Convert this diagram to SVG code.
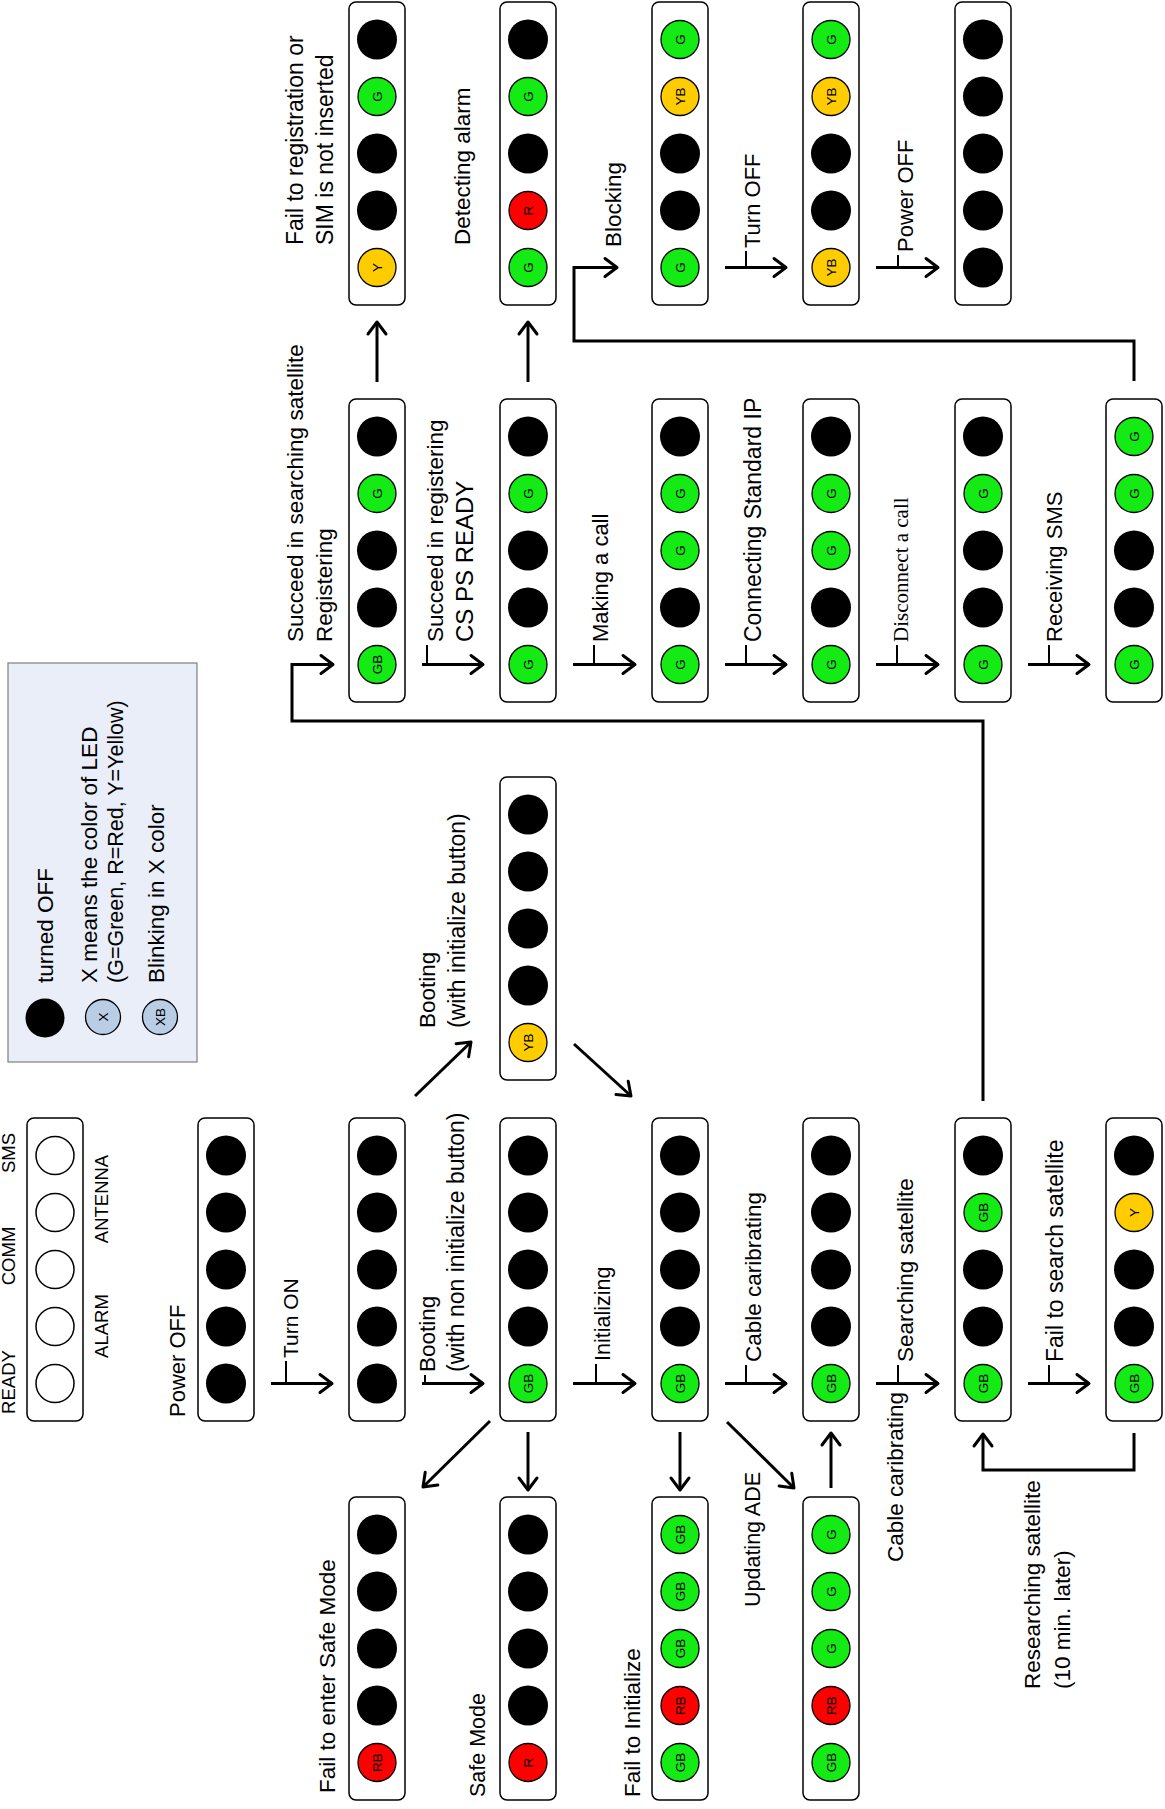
<svg xmlns="http://www.w3.org/2000/svg" width="1165" height="1809" viewBox="0 0 1165 1809">
<style>
.box{fill:#fff;stroke:#000;stroke-width:1.5}
.off{fill:#000}
.wh{fill:#fff;stroke:#000;stroke-width:1.5}
.g{fill:#14EB14;stroke:#000;stroke-width:1.3}
.r{fill:#FF0000;stroke:#000;stroke-width:1.3}
.y{fill:#FFCC00;stroke:#000;stroke-width:1.3}
.lb{fill:#B9CDE5;stroke:#000;stroke-width:1.3}
.led{font-family:"Liberation Sans",Arial,sans-serif;font-size:13.5px;text-anchor:middle;dominant-baseline:central;fill:#000}
.t{font-family:"Liberation Sans",Arial,sans-serif;font-size:22.5px;fill:#000}
.s21{font-size:21.5px}
.s22{font-size:22px}
.s23{font-size:23px}
.sm{font-size:18.5px}
.mid{text-anchor:middle}
.serif{font-family:"Liberation Serif","Times New Roman",serif;font-size:21px}
.conn line,.conn polyline{stroke:#000;stroke-width:3;fill:none}
.tick line{stroke:#000;stroke-width:2}
</style>
<defs>
<marker id="ah" viewBox="0 0 18 22" refX="15" refY="11" markerWidth="18" markerHeight="22" markerUnits="userSpaceOnUse" orient="auto" overflow="visible">
<path d="M3,2 L15,11 L3,20" fill="none" stroke="#000" stroke-width="3" stroke-linecap="round" stroke-linejoin="round"/>
</marker>
</defs>

<!-- Legend: device -->
<g id="legend-device">
<rect class="box" x="27" y="1118" width="56" height="303" rx="7"/>
<circle class="wh" cx="55" cy="1155.5" r="19"/>
<circle class="wh" cx="55" cy="1212.5" r="19"/>
<circle class="wh" cx="55" cy="1269.5" r="19"/>
<circle class="wh" cx="55" cy="1326.5" r="19"/>
<circle class="wh" cx="55" cy="1383.5" r="19"/>
<text class="t sm mid" transform="translate(15 1382) rotate(-90)">READY</text>
<text class="t sm mid" transform="translate(15 1256) rotate(-90)">COMM</text>
<text class="t sm mid" transform="translate(15 1153) rotate(-90)">SMS</text>
<text class="t sm mid" transform="translate(108 1326) rotate(-90)">ALARM</text>
<text class="t sm mid" transform="translate(108 1199) rotate(-90)">ANTENNA</text>
</g>

<!-- Legend: key -->
<g id="legend-key">
<rect x="8" y="663" width="189" height="399" fill="#E9EEF8" stroke="#7F7F7F" stroke-width="1.2"/>
<circle class="off" cx="45" cy="1018" r="19.5"/>
<g transform="translate(103 1017)"><circle class="lb" r="17.5"/><text class="led" transform="rotate(-90)">X</text></g>
<g transform="translate(160 1017)"><circle class="lb" r="17.5"/><text class="led" transform="rotate(-90)">XB</text></g>
<text class="t" transform="translate(53 983) rotate(-90)">turned OFF</text>
<text class="t" transform="translate(97 983) rotate(-90)">X means the color of LED</text>
<text class="t s21" transform="translate(123 983) rotate(-90)">(G=Green, R=Red, Y=Yellow)</text>
<text class="t" transform="translate(164 983) rotate(-90)">Blinking in X color</text>
</g>

<!-- Col1 Row C: Power OFF -->
<g id="n-power-off">
<rect class="box" x="198" y="1118" width="56" height="303" rx="7"/>
<circle class="off" cx="226" cy="1155.5" r="20"/>
<circle class="off" cx="226" cy="1212.5" r="20"/>
<circle class="off" cx="226" cy="1269.5" r="20"/>
<circle class="off" cx="226" cy="1326.5" r="20"/>
<circle class="off" cx="226" cy="1383.5" r="20"/>
<text class="t s22" transform="translate(185 1417) rotate(-90)">Power OFF</text>
</g>

<!-- Col2 Row C: turned on -->
<g id="n-turn-on">
<rect class="box" x="349" y="1118" width="56" height="303" rx="7"/>
<circle class="off" cx="377" cy="1155.5" r="20"/>
<circle class="off" cx="377" cy="1212.5" r="20"/>
<circle class="off" cx="377" cy="1269.5" r="20"/>
<circle class="off" cx="377" cy="1326.5" r="20"/>
<circle class="off" cx="377" cy="1383.5" r="20"/>
</g>

<!-- Col2 Row D: Fail to enter Safe Mode -->
<g id="n-fail-safe">
<rect class="box" x="349" y="1497" width="56" height="303" rx="7"/>
<circle class="off" cx="377" cy="1534.5" r="20"/>
<circle class="off" cx="377" cy="1591.5" r="20"/>
<circle class="off" cx="377" cy="1648.5" r="20"/>
<circle class="off" cx="377" cy="1705.5" r="20"/>
<g transform="translate(377 1762.5)"><circle class="r" r="19"/><text class="led" transform="rotate(-90)">RB</text></g>
</g>

<!-- Col2 Row A: Fail to registration -->
<g id="n-fail-reg">
<rect class="box" x="349" y="2" width="56" height="303" rx="7"/>
<circle class="off" cx="377" cy="39.5" r="20"/>
<g transform="translate(377 96.5)"><circle class="g" r="19"/><text class="led" transform="rotate(-90)">G</text></g>
<circle class="off" cx="377" cy="153.5" r="20"/>
<circle class="off" cx="377" cy="210.5" r="20"/>
<g transform="translate(377 267.5)"><circle class="y" r="19"/><text class="led" transform="rotate(-90)">Y</text></g>
</g>

<!-- Col2 Row B: Registering -->
<g id="n-registering">
<rect class="box" x="349" y="399" width="56" height="303" rx="7"/>
<circle class="off" cx="377" cy="436.5" r="20"/>
<g transform="translate(377 493.5)"><circle class="g" r="19"/><text class="led" transform="rotate(-90)">G</text></g>
<circle class="off" cx="377" cy="550.5" r="20"/>
<circle class="off" cx="377" cy="607.5" r="20"/>
<g transform="translate(377 664.5)"><circle class="g" r="19"/><text class="led" transform="rotate(-90)">GB</text></g>
</g>

<!-- Col3 Row A: Detecting alarm -->
<g id="n-alarm">
<rect class="box" x="500" y="2" width="56" height="303" rx="7"/>
<circle class="off" cx="528" cy="39.5" r="20"/>
<g transform="translate(528 96.5)"><circle class="g" r="19"/><text class="led" transform="rotate(-90)">G</text></g>
<circle class="off" cx="528" cy="153.5" r="20"/>
<g transform="translate(528 210.5)"><circle class="r" r="19"/><text class="led" transform="rotate(-90)">R</text></g>
<g transform="translate(528 267.5)"><circle class="g" r="19"/><text class="led" transform="rotate(-90)">G</text></g>
</g>

<!-- Col3 Row B: CS PS READY -->
<g id="n-ready">
<rect class="box" x="500" y="399" width="56" height="303" rx="7"/>
<circle class="off" cx="528" cy="436.5" r="20"/>
<g transform="translate(528 493.5)"><circle class="g" r="19"/><text class="led" transform="rotate(-90)">G</text></g>
<circle class="off" cx="528" cy="550.5" r="20"/>
<circle class="off" cx="528" cy="607.5" r="20"/>
<g transform="translate(528 664.5)"><circle class="g" r="19"/><text class="led" transform="rotate(-90)">G</text></g>
</g>

<!-- Col3 Mid: Booting with initialize -->
<g id="n-boot-init">
<rect class="box" x="500" y="777" width="56" height="303" rx="7"/>
<circle class="off" cx="528" cy="814.5" r="20"/>
<circle class="off" cx="528" cy="871.5" r="20"/>
<circle class="off" cx="528" cy="928.5" r="20"/>
<circle class="off" cx="528" cy="985.5" r="20"/>
<g transform="translate(528 1042.5)"><circle class="y" r="19"/><text class="led" transform="rotate(-90)">YB</text></g>
</g>

<!-- Col3 Row C: Booting non init -->
<g id="n-boot">
<rect class="box" x="500" y="1118" width="56" height="303" rx="7"/>
<circle class="off" cx="528" cy="1155.5" r="20"/>
<circle class="off" cx="528" cy="1212.5" r="20"/>
<circle class="off" cx="528" cy="1269.5" r="20"/>
<circle class="off" cx="528" cy="1326.5" r="20"/>
<g transform="translate(528 1383.5)"><circle class="g" r="19"/><text class="led" transform="rotate(-90)">GB</text></g>
</g>

<!-- Col3 Row D: Safe Mode -->
<g id="n-safe">
<rect class="box" x="500" y="1497" width="56" height="303" rx="7"/>
<circle class="off" cx="528" cy="1534.5" r="20"/>
<circle class="off" cx="528" cy="1591.5" r="20"/>
<circle class="off" cx="528" cy="1648.5" r="20"/>
<circle class="off" cx="528" cy="1705.5" r="20"/>
<g transform="translate(528 1762.5)"><circle class="r" r="19"/><text class="led" transform="rotate(-90)">R</text></g>
</g>

<!-- Col4 Row A: Blocking -->
<g id="n-blocking">
<rect class="box" x="652" y="2" width="56" height="303" rx="7"/>
<g transform="translate(680 39.5)"><circle class="g" r="19"/><text class="led" transform="rotate(-90)">G</text></g>
<g transform="translate(680 96.5)"><circle class="y" r="19"/><text class="led" transform="rotate(-90)">YB</text></g>
<circle class="off" cx="680" cy="153.5" r="20"/>
<circle class="off" cx="680" cy="210.5" r="20"/>
<g transform="translate(680 267.5)"><circle class="g" r="19"/><text class="led" transform="rotate(-90)">G</text></g>
</g>

<!-- Col4 Row B: Making a call -->
<g id="n-call">
<rect class="box" x="652" y="399" width="56" height="303" rx="7"/>
<circle class="off" cx="680" cy="436.5" r="20"/>
<g transform="translate(680 493.5)"><circle class="g" r="19"/><text class="led" transform="rotate(-90)">G</text></g>
<g transform="translate(680 550.5)"><circle class="g" r="19"/><text class="led" transform="rotate(-90)">G</text></g>
<circle class="off" cx="680" cy="607.5" r="20"/>
<g transform="translate(680 664.5)"><circle class="g" r="19"/><text class="led" transform="rotate(-90)">G</text></g>
</g>

<!-- Col4 Row C: Initializing -->
<g id="n-init">
<rect class="box" x="652" y="1118" width="56" height="303" rx="7"/>
<circle class="off" cx="680" cy="1155.5" r="20"/>
<circle class="off" cx="680" cy="1212.5" r="20"/>
<circle class="off" cx="680" cy="1269.5" r="20"/>
<circle class="off" cx="680" cy="1326.5" r="20"/>
<g transform="translate(680 1383.5)"><circle class="g" r="19"/><text class="led" transform="rotate(-90)">GB</text></g>
</g>

<!-- Col4 Row D: Fail to Initialize -->
<g id="n-fail-init">
<rect class="box" x="652" y="1497" width="56" height="303" rx="7"/>
<g transform="translate(680 1534.5)"><circle class="g" r="19"/><text class="led" transform="rotate(-90)">GB</text></g>
<g transform="translate(680 1591.5)"><circle class="g" r="19"/><text class="led" transform="rotate(-90)">GB</text></g>
<g transform="translate(680 1648.5)"><circle class="g" r="19"/><text class="led" transform="rotate(-90)">GB</text></g>
<g transform="translate(680 1705.5)"><circle class="r" r="19"/><text class="led" transform="rotate(-90)">RB</text></g>
<g transform="translate(680 1762.5)"><circle class="g" r="19"/><text class="led" transform="rotate(-90)">GB</text></g>
</g>

<!-- Col5 Row A: Turn OFF -->
<g id="n-turn-off">
<rect class="box" x="803" y="2" width="56" height="303" rx="7"/>
<g transform="translate(831 39.5)"><circle class="g" r="19"/><text class="led" transform="rotate(-90)">G</text></g>
<g transform="translate(831 96.5)"><circle class="y" r="19"/><text class="led" transform="rotate(-90)">YB</text></g>
<circle class="off" cx="831" cy="153.5" r="20"/>
<circle class="off" cx="831" cy="210.5" r="20"/>
<g transform="translate(831 267.5)"><circle class="y" r="19"/><text class="led" transform="rotate(-90)">YB</text></g>
</g>

<!-- Col5 Row B: Connecting Standard IP -->
<g id="n-ip">
<rect class="box" x="803" y="399" width="56" height="303" rx="7"/>
<circle class="off" cx="831" cy="436.5" r="20"/>
<g transform="translate(831 493.5)"><circle class="g" r="19"/><text class="led" transform="rotate(-90)">G</text></g>
<g transform="translate(831 550.5)"><circle class="g" r="19"/><text class="led" transform="rotate(-90)">G</text></g>
<circle class="off" cx="831" cy="607.5" r="20"/>
<g transform="translate(831 664.5)"><circle class="g" r="19"/><text class="led" transform="rotate(-90)">G</text></g>
</g>

<!-- Col5 Row C: Cable caribrating -->
<g id="n-cable">
<rect class="box" x="803" y="1118" width="56" height="303" rx="7"/>
<circle class="off" cx="831" cy="1155.5" r="20"/>
<circle class="off" cx="831" cy="1212.5" r="20"/>
<circle class="off" cx="831" cy="1269.5" r="20"/>
<circle class="off" cx="831" cy="1326.5" r="20"/>
<g transform="translate(831 1383.5)"><circle class="g" r="19"/><text class="led" transform="rotate(-90)">GB</text></g>
</g>

<!-- Col5 Row D: Updating ADE -->
<g id="n-ade">
<rect class="box" x="803" y="1497" width="56" height="303" rx="7"/>
<g transform="translate(831 1534.5)"><circle class="g" r="19"/><text class="led" transform="rotate(-90)">G</text></g>
<g transform="translate(831 1591.5)"><circle class="g" r="19"/><text class="led" transform="rotate(-90)">G</text></g>
<g transform="translate(831 1648.5)"><circle class="g" r="19"/><text class="led" transform="rotate(-90)">G</text></g>
<g transform="translate(831 1705.5)"><circle class="r" r="19"/><text class="led" transform="rotate(-90)">RB</text></g>
<g transform="translate(831 1762.5)"><circle class="g" r="19"/><text class="led" transform="rotate(-90)">GB</text></g>
</g>

<!-- Col6 Row A: Power OFF -->
<g id="n-power-off-2">
<rect class="box" x="955" y="2" width="56" height="303" rx="7"/>
<circle class="off" cx="983" cy="39.5" r="20"/>
<circle class="off" cx="983" cy="96.5" r="20"/>
<circle class="off" cx="983" cy="153.5" r="20"/>
<circle class="off" cx="983" cy="210.5" r="20"/>
<circle class="off" cx="983" cy="267.5" r="20"/>
</g>

<!-- Col6 Row B: Disconnect a call -->
<g id="n-disconnect">
<rect class="box" x="955" y="399" width="56" height="303" rx="7"/>
<circle class="off" cx="983" cy="436.5" r="20"/>
<g transform="translate(983 493.5)"><circle class="g" r="19"/><text class="led" transform="rotate(-90)">G</text></g>
<circle class="off" cx="983" cy="550.5" r="20"/>
<circle class="off" cx="983" cy="607.5" r="20"/>
<g transform="translate(983 664.5)"><circle class="g" r="19"/><text class="led" transform="rotate(-90)">G</text></g>
</g>

<!-- Col6 Row C: Searching satellite -->
<g id="n-search">
<rect class="box" x="955" y="1118" width="56" height="303" rx="7"/>
<circle class="off" cx="983" cy="1155.5" r="20"/>
<g transform="translate(983 1212.5)"><circle class="g" r="19"/><text class="led" transform="rotate(-90)">GB</text></g>
<circle class="off" cx="983" cy="1269.5" r="20"/>
<circle class="off" cx="983" cy="1326.5" r="20"/>
<g transform="translate(983 1383.5)"><circle class="g" r="19"/><text class="led" transform="rotate(-90)">GB</text></g>
</g>

<!-- Col7 Row B: Receiving SMS -->
<g id="n-sms">
<rect class="box" x="1106" y="399" width="56" height="303" rx="7"/>
<g transform="translate(1134 436.5)"><circle class="g" r="19"/><text class="led" transform="rotate(-90)">G</text></g>
<g transform="translate(1134 493.5)"><circle class="g" r="19"/><text class="led" transform="rotate(-90)">G</text></g>
<circle class="off" cx="1134" cy="550.5" r="20"/>
<circle class="off" cx="1134" cy="607.5" r="20"/>
<g transform="translate(1134 664.5)"><circle class="g" r="19"/><text class="led" transform="rotate(-90)">G</text></g>
</g>

<!-- Col7 Row C: Fail to search satellite -->
<g id="n-fail-search">
<rect class="box" x="1106" y="1118" width="56" height="303" rx="7"/>
<circle class="off" cx="1134" cy="1155.5" r="20"/>
<g transform="translate(1134 1212.5)"><circle class="y" r="19"/><text class="led" transform="rotate(-90)">Y</text></g>
<circle class="off" cx="1134" cy="1269.5" r="20"/>
<circle class="off" cx="1134" cy="1326.5" r="20"/>
<g transform="translate(1134 1383.5)"><circle class="g" r="19"/><text class="led" transform="rotate(-90)">GB</text></g>
</g>

<!-- Connectors -->
<g id="connectors" class="conn">
<line x1="271" y1="1383.5" x2="332" y2="1383.5" marker-end="url(#ah)"/>
<line x1="422" y1="1383.5" x2="483" y2="1383.5" marker-end="url(#ah)"/>
<line x1="573" y1="1383.5" x2="635" y2="1383.5" marker-end="url(#ah)"/>
<line x1="725" y1="1383.5" x2="786" y2="1383.5" marker-end="url(#ah)"/>
<line x1="876" y1="1383.5" x2="938" y2="1383.5" marker-end="url(#ah)"/>
<line x1="1028" y1="1383.5" x2="1089" y2="1383.5" marker-end="url(#ah)"/>
<line x1="422" y1="664.5" x2="483" y2="664.5" marker-end="url(#ah)"/>
<line x1="573" y1="664.5" x2="635" y2="664.5" marker-end="url(#ah)"/>
<line x1="725" y1="664.5" x2="786" y2="664.5" marker-end="url(#ah)"/>
<line x1="876" y1="664.5" x2="938" y2="664.5" marker-end="url(#ah)"/>
<line x1="1028" y1="664.5" x2="1089" y2="664.5" marker-end="url(#ah)"/>
<line x1="725" y1="267.5" x2="786" y2="267.5" marker-end="url(#ah)"/>
<line x1="876" y1="267.5" x2="938" y2="267.5" marker-end="url(#ah)"/>
<polyline points="1134,381 1134,341 574,341 574,267.5 617,267.5" marker-end="url(#ah)"/>
<polyline points="983,1101 983,721 292,721 292,664.5 333,664.5" marker-end="url(#ah)"/>
<polyline points="1134,1433 1134,1470 983,1470 983,1434" marker-end="url(#ah)"/>
<line x1="377" y1="382" x2="377" y2="322" marker-end="url(#ah)"/>
<line x1="528" y1="382" x2="528" y2="322" marker-end="url(#ah)"/>
<line x1="528" y1="1432" x2="528" y2="1490" marker-end="url(#ah)"/>
<line x1="680" y1="1432" x2="680" y2="1490" marker-end="url(#ah)"/>
<line x1="831" y1="1488" x2="831" y2="1433" marker-end="url(#ah)"/>
<line x1="490" y1="1421" x2="423" y2="1487" marker-end="url(#ah)"/>
<line x1="727" y1="1422" x2="794" y2="1488" marker-end="url(#ah)"/>
<line x1="415" y1="1096" x2="471" y2="1042" marker-end="url(#ah)"/>
<line x1="574" y1="1044" x2="631" y2="1096" marker-end="url(#ah)"/>
</g>
<g id="label-ticks" class="tick">
<line x1="746" y1="251" x2="746" y2="267.5"/>
<line x1="898" y1="255" x2="898" y2="267.5"/>
<line x1="427" y1="645" x2="427" y2="664.5"/>
<line x1="594" y1="645" x2="594" y2="664.5"/>
<line x1="746" y1="645" x2="746" y2="664.5"/>
<line x1="897" y1="645" x2="897" y2="664.5"/>
<line x1="1049" y1="645" x2="1049" y2="664.5"/>
<line x1="286" y1="1361" x2="286" y2="1383.5"/>
<line x1="425" y1="1375" x2="425" y2="1383.5"/>
<line x1="596" y1="1364" x2="596" y2="1383.5"/>
<line x1="746" y1="1365" x2="746" y2="1383.5"/>
<line x1="898" y1="1365" x2="898" y2="1383.5"/>
<line x1="1049" y1="1365" x2="1049" y2="1383.5"/>
</g>

<!-- Labels -->
<g id="labels">
<text class="t s23" transform="translate(303 245) rotate(-90)">Fail to registration or</text>
<text class="t s23" transform="translate(333 245) rotate(-90)">SIM is not inserted</text>
<text class="t" transform="translate(470 245) rotate(-90)">Detecting alarm</text>
<text class="t" transform="translate(621 247) rotate(-90)">Blocking</text>
<text class="t s22" transform="translate(760 248) rotate(-90)">Turn OFF</text>
<text class="t s22" transform="translate(913 252) rotate(-90)">Power OFF</text>

<text class="t" transform="translate(303 642) rotate(-90)">Succeed in searching satellite</text>
<text class="t" transform="translate(332 642) rotate(-90)">Registering</text>
<text class="t" transform="translate(443 642) rotate(-90)">Succeed in registering</text>
<text class="t" transform="translate(473 642) rotate(-90)" style="font-size:24px">CS PS READY</text>
<text class="t s22" transform="translate(608 642) rotate(-90)">Making a call</text>
<text class="t s23" transform="translate(761 642) rotate(-90)">Connecting Standard IP</text>
<text class="t serif" transform="translate(908 642) rotate(-90)">Disconnect a call</text>
<text class="t s22" transform="translate(1062 642) rotate(-90)">Receiving SMS</text>

<text class="t" transform="translate(435 1028) rotate(-90)">Booting</text>
<text class="t s23" transform="translate(465 1028) rotate(-90)">(with initialize button)</text>

<text class="t" transform="translate(298 1358) rotate(-90)" style="font-size:21px">Turn ON</text>
<text class="t" transform="translate(435 1372) rotate(-90)">Booting</text>
<text class="t s23" transform="translate(464 1372) rotate(-90)">(with non initialize button)</text>
<text class="t s21" transform="translate(610 1361) rotate(-90)">Initializing</text>
<text class="t" transform="translate(761 1362) rotate(-90)">Cable caribrating</text>
<text class="t" transform="translate(913 1362) rotate(-90)">Searching satellite</text>
<text class="t s23" transform="translate(1063 1362) rotate(-90)">Fail to search satellite</text>

<text class="t" transform="translate(335 1793) rotate(-90)">Fail to enter Safe Mode</text>
<text class="t s21" transform="translate(485 1797) rotate(-90)">Safe Mode</text>
<text class="t" transform="translate(640 1797) rotate(-90)">Fail to Initialize</text>
<text class="t s21" transform="translate(760 1607) rotate(-90)">Updating ADE</text>
<text class="t" transform="translate(903 1562) rotate(-90)">Cable caribrating</text>
<text class="t" transform="translate(1040 1689) rotate(-90)">Researching satellite</text>
<text class="t" transform="translate(1070 1689) rotate(-90)">(10 min. later)</text>
</g>
</svg>
